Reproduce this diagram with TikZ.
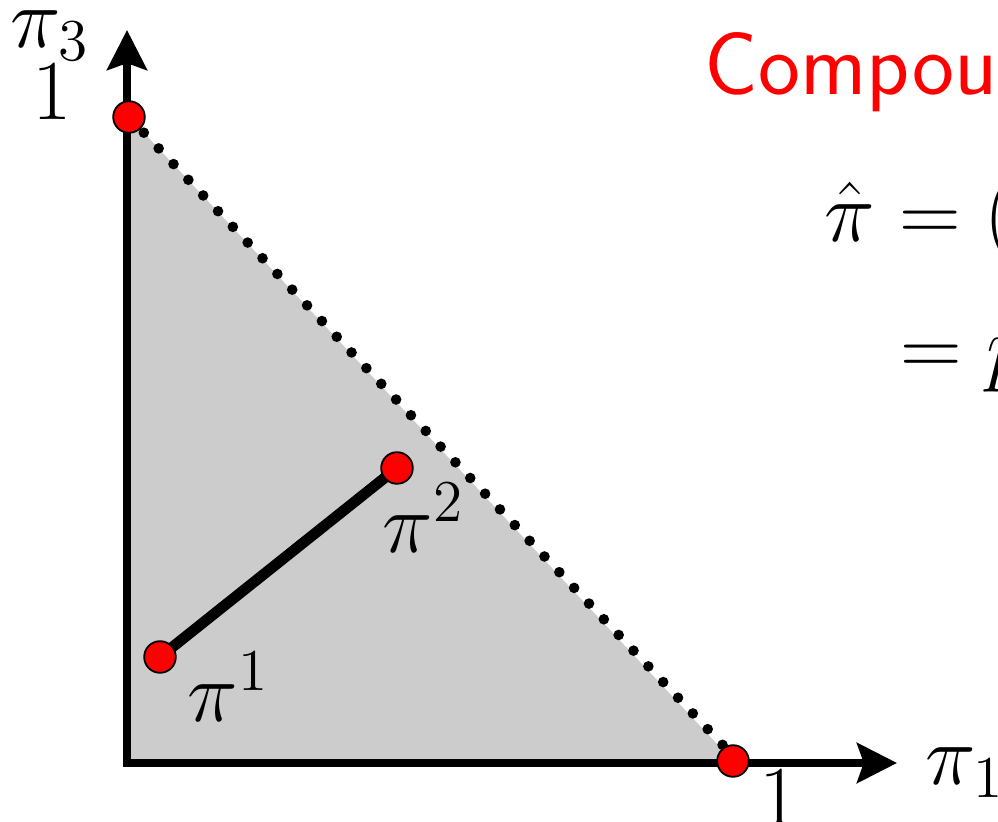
\documentclass[tikz,border=0pt]{standalone}
\usetikzlibrary{arrows.meta}
\begin{document}
\begin{tikzpicture}[x=0.25pt,y=-0.25pt,
  reddot/.style={circle,fill=red,draw=black,line width=0.45pt,minimum size=7.9pt,inner sep=0pt},
  lbl/.style={inner sep=0pt,scale=1.03,transform shape,font=\fontsize{20.74}{25}\selectfont},
  ttl/.style={inner sep=0pt,text=red,font=\sffamily\fontsize{22.3}{26}\selectfont},
  axisline/.style={line width=1.8pt,line join=miter,
     {Stealth[length=10pt,width=10pt,inset=1.7pt]}-{Stealth[length=10pt,width=10pt,inset=1.7pt]}},
  dotline/.style={line width=2.65pt,line cap=round,dash pattern=on 0pt off 5.4pt},
  segline/.style={line width=2.7pt},
  region/.style={fill=black!20}
]
\useasboundingbox (0,0) rectangle (998,822);
\begin{scope}
\clip (0,0) rectangle (998,822);
% coordinates
\coordinate (O) at (127,763);
\coordinate (Ytip) at (127,30);
\coordinate (Xtip) at (897,763);
\coordinate (E3) at (129,117);
\coordinate (E1) at (733,761);
\coordinate (Dend) at (752,776);
\coordinate (P1) at (160,657);
\coordinate (P2) at (397,468);
% simplex region
\fill[region] (E3) -- (O) -- (E1) -- cycle;
% dotted edge
\draw[dotline] (E3) -- (Dend);
% axes
\draw[axisline] (Ytip) -- (O) -- (Xtip);
% segment
\draw[segline] (P1) -- (P2);
% dots
\node[reddot] (e3) at (E3) {};
\node[reddot] (e1) at (E1) {};
\node[reddot] (p1) at (P1) {};
\node[reddot] (p2) at (P2) {};
% labels
\node[lbl,anchor=base west] (l3) at (10,48) {$\pi_3$};
\node[lbl,anchor=base] (one3) at (52,120) {$1$};
\node[lbl,anchor=base] (one1) at (779,826) {$1$};
\node[lbl,anchor=base west] (l1) at (925,785) {$\pi_1$};
\node[lbl,anchor=base west] (lp1) at (187,722) {$\pi^1$};
\node[lbl,anchor=base west] (lp2) at (382,553) {$\pi^2$};
% title and equations
\node[ttl,anchor=base west] (title) at (704,95) {Compou};
\node[lbl,anchor=base west] (eq1) at (824,242) {$\hat\pi = ($};
\node[lbl,anchor=base west] (eq2) at (900,376) {$= p$};
\end{scope}
\end{tikzpicture}
\end{document}
